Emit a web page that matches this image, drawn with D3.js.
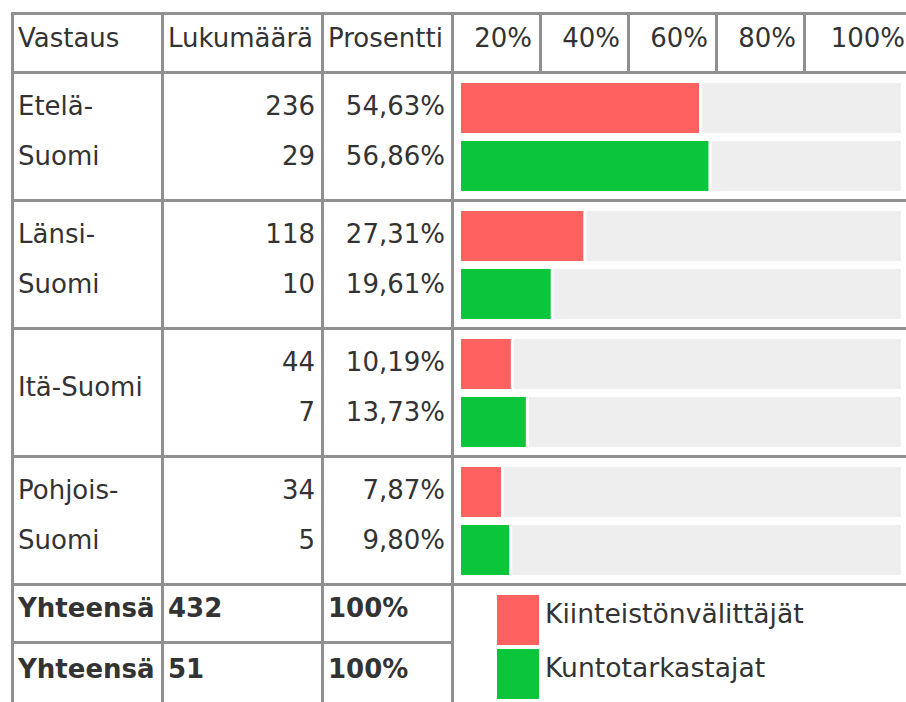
<!DOCTYPE html>
<head>
    <meta charset="utf-8">
    <script src="https://d3js.org/d3.v7.min.js"></script>
    <style>
        body { margin: 0; background: #fff; }
        .canvas text { font-family: "DejaVu Sans", Verdana, sans-serif; font-size: 26px; fill: #333; }
        .canvas text.bold { font-weight: bold; }
        .canvas g.legend text { font-size: 26.6px; }
        .canvas .grid { fill: #909090; }
    </style>
</head>
<body>
<div id="canvas1"></div>
<script>
    // dados ------------------------------------------------------------
    var headers = ["Vastaus", "Lukumäärä", "Prosentti"];
    var tickLabels = ["20%", "40%", "60%", "80%", "100%"];
    var regions = [["Etelä-", "Suomi"], ["Länsi-", "Suomi"], ["Itä-Suomi"], ["Pohjois-", "Suomi"]];
    var series = ["Kiinteistönvälittäjät", "Kuntotarkastajat"];
    var countsKv = [236, 118, 44, 34];
    var countsKt = [29, 10, 7, 5];
    var pctKv = [54.63, 27.31, 10.19, 7.87];
    var pctKt = [56.86, 19.61, 13.73, 9.80];
    var totals = [432, 51];
    var colors = ["#ff6161", "#0bc63a"];

    var width = 906, height = 702;
    var lw = 3; // largura das linhas
    var colEdges = [11, 161, 321, 451, 912]; // bordas das colunas
    var headTop = 12, headBottom = 71, tableBottom = 583;

    var svg = d3.select('#canvas1')
        .append("svg")
        .attr('class', 'canvas')
        .attr('width', width)
        .attr('height', height);

    var fi = d3.formatLocale({decimal: ",", thousands: " ", grouping: [3], currency: ["", "€"]});
    var fmtPct = function(v) { return fi.format(".2f")(v) + "%"; };

    // escalas ------------------------------------------------------------
    var y = d3.scaleBand()
        .domain(d3.range(regions.length))
        .range([headBottom, tableBottom]);

    var x = d3.scaleLinear()
        .domain([0, 100])
        .range([0, 423.4]);
    var segPad = 6.7, segGap = 3;
    var barLeft = colEdges[3] + lw + 7;

    var tickX = d3.scaleBand()
        .domain(tickLabels.slice(0, 4))
        .range([colEdges[3], colEdges[3] + 4 * 88]);
    function tickRight(d, i) {
        return i < 4 ? tickX(d) + tickX.bandwidth() : colEdges[4];
    }

    // cabeçalho --------------------------------------------------------
    svg.selectAll('text.head')
        .data(headers)
        .enter()
        .append('text')
        .attr('class', 'head')
        .attr('x', function(d, i) { return colEdges[i] + lw + 4; })
        .attr('y', 47)
        .text(function(d) { return d; });

    svg.selectAll('text.tick')
        .data(tickLabels)
        .enter()
        .append('text')
        .attr('class', 'tick')
        .attr('text-anchor', 'end')
        .attr('x', function(d, i) { return tickRight(d, i) - 7; })
        .attr('y', 47)
        .text(function(d) { return d; });

    svg.selectAll('rect.tickline')
        .data(tickLabels.slice(0, 4))
        .enter()
        .append('rect')
        .attr('class', 'grid tickline')
        .attr('x', function(d) { return tickX(d) + tickX.bandwidth(); })
        .attr('y', headTop)
        .attr('width', lw)
        .attr('height', headBottom - headTop);

    // linhas -----------------------------------------------------------
    var rows = svg.selectAll('g.row')
        .data(regions)
        .enter()
        .append('g')
        .attr('class', 'row')
        .attr('transform', function(d, i) { return 'translate(0,' + y(i) + ')'; });

    rows.each(function(lines, i) {
        var g = d3.select(this);
        var lineY = lines.length === 1 ? [69] : [44, 94];
        g.selectAll('text.label')
            .data(lines)
            .enter()
            .append('text')
            .attr('class', 'label')
            .attr('x', colEdges[0] + lw + 4)
            .attr('y', function(d, k) { return lineY[k]; })
            .text(function(d) { return d; });

        var counts = [countsKv[i], countsKt[i]];
        var pcts = [pctKv[i], pctKt[i]];

        g.selectAll('text.count')
            .data(counts)
            .enter()
            .append('text')
            .attr('text-anchor', 'end')
            .attr('x', colEdges[2] - 6)
            .attr('y', function(d, k) { return 44 + k * 50; })
            .text(function(d) { return d; });

        g.selectAll('text.pct')
            .data(pcts)
            .enter()
            .append('text')
            .attr('text-anchor', 'end')
            .attr('x', colEdges[3] - 6)
            .attr('y', function(d, k) { return 44 + k * 50; })
            .text(fmtPct);

        // barras + fundo cinza
        g.selectAll('rect.bar')
            .data(pcts)
            .enter()
            .append('rect')
            .attr('class', 'bar')
            .attr('x', barLeft)
            .attr('y', function(d, k) { return 12 + k * 58; })
            .attr('width', function(d) { return x(d) + segPad; })
            .attr('height', 50)
            .attr('fill', function(d, k) { return colors[k]; });

        g.selectAll('rect.rest')
            .data(pcts)
            .enter()
            .append('rect')
            .attr('class', 'rest')
            .attr('x', function(d) { return barLeft + x(d) + segPad + segGap; })
            .attr('y', function(d, k) { return 12 + k * 58; })
            .attr('width', function(d) { return x(100 - d) + segPad; })
            .attr('height', 50)
            .attr('fill', '#eeeeee');
    });

    // totais -----------------------------------------------------------
    var totY = [617, 678];
    svg.selectAll('g.total')
        .data(totals)
        .enter()
        .append('g')
        .attr('class', 'total')
        .each(function(d, i) {
            var g = d3.select(this);
            var vals = ["Yhteensä", d, "100%"];
            g.selectAll('text')
                .data(vals)
                .enter()
                .append('text')
                .attr('class', 'bold')
                .attr('x', function(v, k) { return colEdges[k] + lw + 4; })
                .attr('y', totY[i])
                .text(function(v) { return v; });
        });

    // legenda ----------------------------------------------------------
    var leg = svg.selectAll('g.legend')
        .data(series)
        .enter()
        .append('g')
        .attr('class', 'legend')
        .attr('transform', function(d, i) { return 'translate(497,' + (595 + i * 54) + ')'; });
    leg.append('rect')
        .attr('width', 42)
        .attr('height', 50)
        .attr('fill', function(d, i) { return colors[i]; });
    leg.append('text')
        .attr('x', 48)
        .attr('y', 28)
        .text(function(d) { return d; });

    // grade ------------------------------------------------------------
    var hLines = [headTop, headBottom].concat(d3.range(1, regions.length + 1).map(function(i) { return y(i - 1) + y.bandwidth(); }));
    svg.selectAll('rect.hline')
        .data(hLines)
        .enter()
        .append('rect')
        .attr('class', 'grid hline')
        .attr('x', colEdges[0])
        .attr('y', function(d) { return d; })
        .attr('width', width - colEdges[0])
        .attr('height', lw);

    // linha entre os dois totais (só na parte esquerda)
    svg.append('rect')
        .attr('class', 'grid')
        .attr('x', colEdges[0])
        .attr('y', 641)
        .attr('width', colEdges[3] - colEdges[0])
        .attr('height', lw);

    svg.selectAll('rect.vline')
        .data(colEdges.slice(0, 4))
        .enter()
        .append('rect')
        .attr('class', 'grid vline')
        .attr('x', function(d) { return d; })
        .attr('y', headTop)
        .attr('width', lw)
        .attr('height', height - headTop);
</script>
</body>
